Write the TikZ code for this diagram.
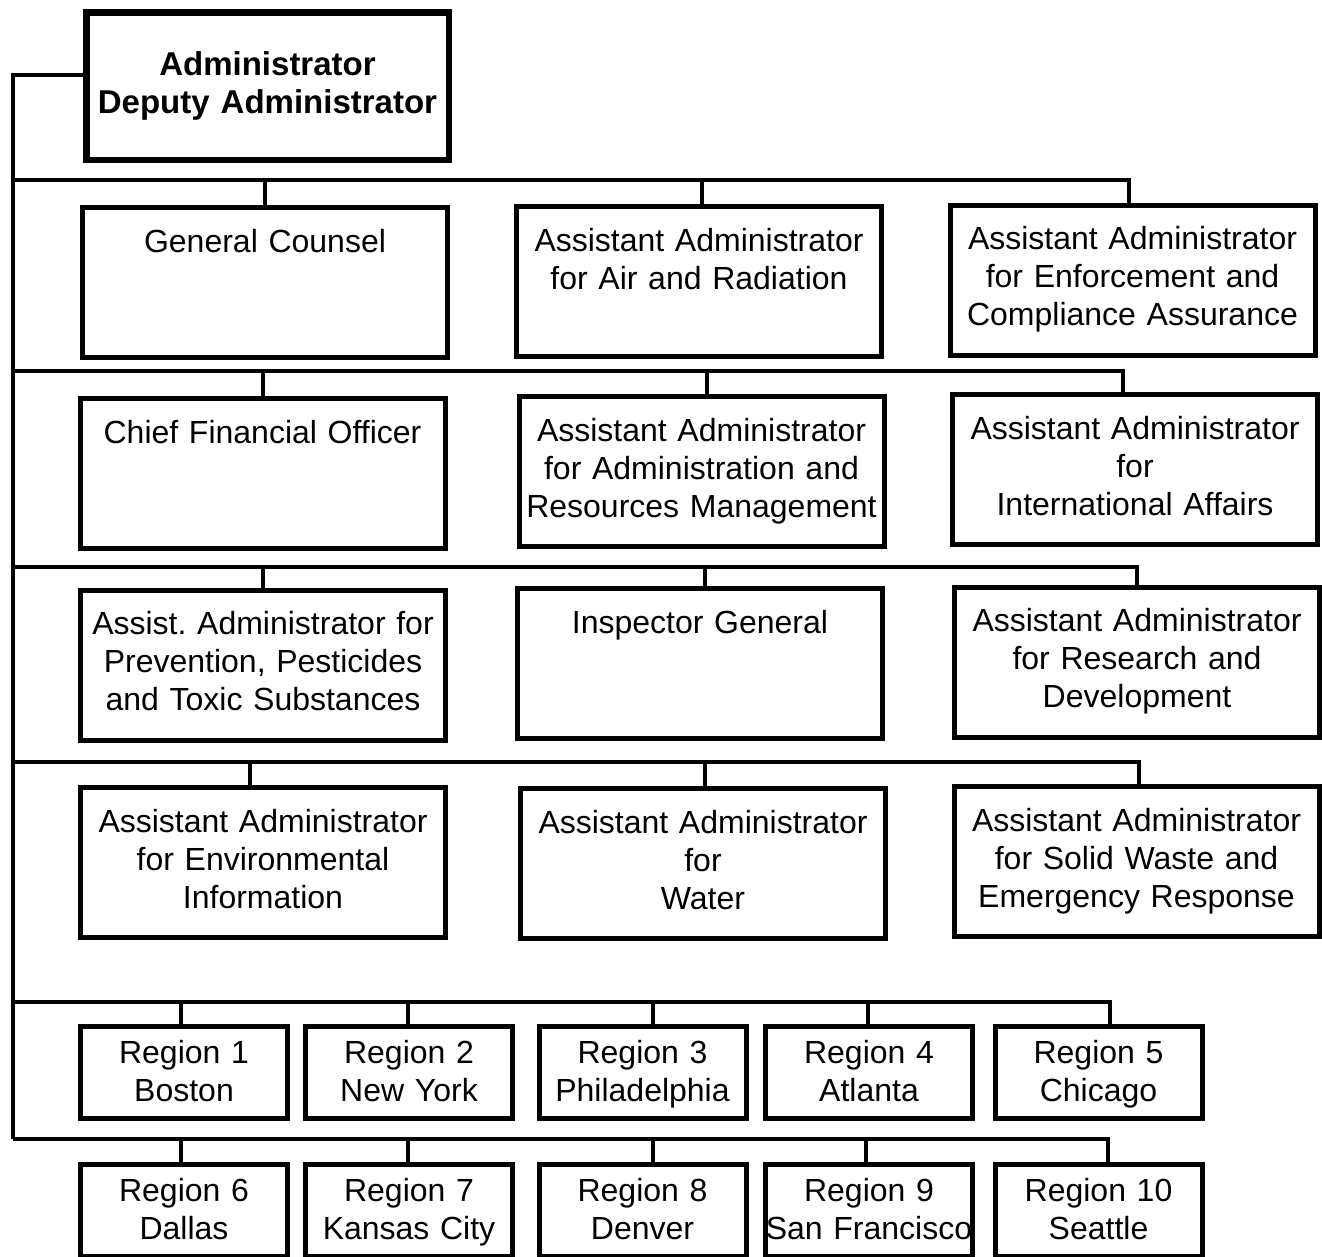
\documentclass[tikz,border=0pt]{standalone}
\usepackage{fontspec}
\setmainfont{Liberation Sans}
\frenchspacing
\tikzset{
        office/.style={draw=black, line width=5pt, inner sep=0pt, align=center,
          text width=365pt, text height=44.5pt, text depth=105.5pt,
          font=\fontsize{32}{38}\selectfont},
        head/.style={office, line width=6.5pt, text width=362.5pt,
          text height=62.75pt, text depth=84.75pt,
          font=\fontsize{33}{38}\selectfont\bfseries},
        region/.style={office, text width=207pt, text height=37.5pt, text depth=54.5pt},
        link/.style={line width=4pt}
          }

\begin{document}
\begin{tikzpicture}[x=1pt, y=-1pt]
  \useasboundingbox (0,0) rectangle (1322,1256);

  % head office
  \node[head] (admin) at (267.5,86) {Administrator\\Deputy Administrator};

  % staff offices, three per row
  \node[office] (gc)    at (265,282.5)  {General Counsel};
  \node[office] (air)   at (699,281.5)  {Assistant Administrator\\for Air and Radiation};
  \node[office] (ecc)   at (1132.5,280) {Assistant Administrator\\for Enforcement and\\Compliance Assurance};
  \node[office] (cfo)   at (262.5,473.5){Chief Financial Officer};
  \node[office] (arm)   at (701.5,471.5){Assistant Administrator\\for Administration and\\Resources Management};
  \node[office] (intl)  at (1135,469.5) {Assistant Administrator\\for\\International Affairs};
  \node[office] (ppts)  at (263,665)    {Assist. Administrator for\\Prevention, Pesticides\\and Toxic Substances};
  \node[office] (ig)    at (700,663.5)  {Inspector General};
  \node[office] (rd)    at (1137,662)   {Assistant Administrator\\for Research and\\Development};
  \node[office] (ei)    at (263,862.5)  {Assistant Administrator\\for Environmental\\Information};
  \node[office] (water) at (703,863.5)  {Assistant Administrator\\for\\Water};
  \node[office] (swer)  at (1136.5,861.5){Assistant Administrator\\for Solid Waste and\\Emergency Response};

  % regional offices
  \foreach \n/\x/\city in {1/184/Boston, 2/409/New York, 3/642.5/Philadelphia,
                           4/869/Atlanta, 5/1098.5/Chicago}
    \node[region] (r\n) at (\x,1072) {Region \n\\\city};
  \foreach \n/\x/\city in {6/184/Dallas, 7/409/Kansas City, 8/642.5/Denver,
                           9/869/San Francisco, 10/1098.5/Seattle}
    \node[region] (r\n) at (\x,1210) {Region \n\\\city};

  % trunk and buses
  \coordinate (top)  at (13,75);
  \coordinate (bus1) at (13,180);
  \coordinate (bus2) at (13,371);
  \coordinate (bus3) at (13,567);
  \coordinate (bus4) at (13,762);
  \coordinate (bus5) at (13,1002);
  \coordinate (bus6) at (13,1139);

  \draw[link] (admin.west |- top) -- (top) -- (bus6);

  \draw[link] (bus1) -| ([xshift=-4pt]ecc.north);
  \draw[link] (gc.north) -- (gc.north |- bus1);
  \draw[link] ([xshift=3pt]air.north) -- ([xshift=3pt]air.north |- bus1);

  \draw[link] (bus2) -| ([xshift=-12pt]intl.north);
  \draw[link] (cfo.north) -- (cfo.north |- bus2);
  \draw[link] ([xshift=5pt]arm.north) -- ([xshift=5pt]arm.north |- bus2);

  \draw[link] (bus3) -| (rd.north);
  \draw[link] (ppts.north) -- (ppts.north |- bus3);
  \draw[link] ([xshift=5pt]ig.north) -- ([xshift=5pt]ig.north |- bus3);

  \draw[link] (bus4) -| ([xshift=2pt]swer.north);
  \draw[link] ([xshift=-13pt]ei.north) -- ([xshift=-13pt]ei.north |- bus4);
  \draw[link] ([xshift=2pt]water.north) -- ([xshift=2pt]water.north |- bus4);

  \draw[link] (bus5) -| ([xshift=11pt]r5.north);
  \foreach \n/\dx in {1/-3, 2/-1, 3/10, 4/-1}
    \draw[link] ([xshift=\dx pt]r\n.north) -- ([xshift=\dx pt]r\n.north |- bus5);

  \draw[link] (bus6) -| ([xshift=9pt]r10.north);
  \foreach \n/\dx in {6/-3, 7/-1, 8/10, 9/-3}
    \draw[link] ([xshift=\dx pt]r\n.north) -- ([xshift=\dx pt]r\n.north |- bus6);
\end{tikzpicture}
\end{document}
